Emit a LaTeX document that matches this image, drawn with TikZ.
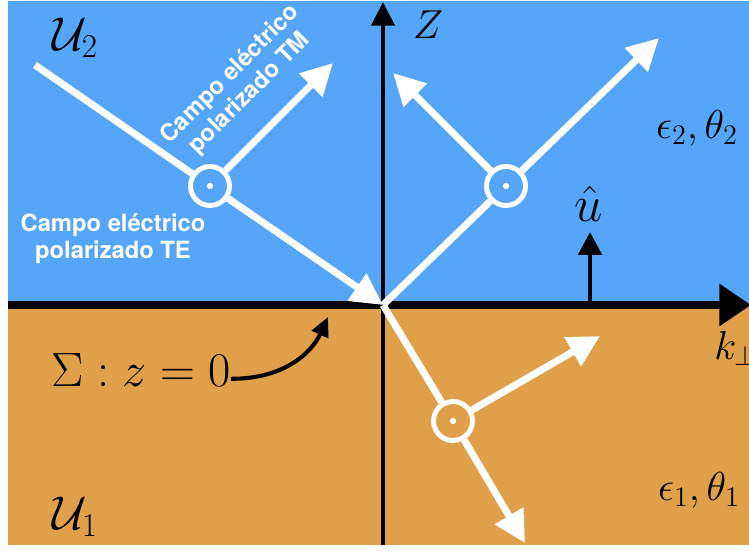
\RequirePackage{fix-cm}
\documentclass[tikz,border=0pt]{standalone}
\usepackage{amsmath}
\usepackage{fontspec}
\newfontfamily\heros{TeX Gyre Heros}
\usepackage{xcolor}
\usepackage{tikz}
\usetikzlibrary{arrows.meta,calc,positioning}

\definecolor{medioDos}{RGB}{85,165,249}
\definecolor{medioUno}{RGB}{224,160,74}

\begin{document}
\begin{tikzpicture}[x=0.02cm, y=-0.02cm,
  ray/.style={white, line width=4pt},
  tipW/.style={-{Triangle[length=18pt,width=18pt]}},
  pol/.style={circle, draw=white, line width=2.8pt, minimum size=0.78cm, inner sep=0pt},
  rotulo/.style={font=\heros\bfseries\fontsize{13.5}{15.4}\selectfont, text=white, align=center},
  mat/.style={font=\fontsize{23}{28}\selectfont}]
  \useasboundingbox (0,0) rectangle (749,550);
  \clip (0,0) rectangle (749,550);
  % medios
  \fill [medioDos] (8,1) rectangle (749,305);
  \fill [medioUno] (8,305) rectangle (749,545);

  % ejes
  \coordinate (O) at (383,305);
  \coordinate (xIni) at (8,305);
  \coordinate (xFin) at (751,305);
  \coordinate (zIni) at (383,545);
  \coordinate (zFin) at (383,2);
  \draw [line width=4.5pt, -{Triangle[length=18pt,width=23pt]}] (xIni) -- (xFin);
  \draw [line width=2.8pt, -{Triangle[length=13.5pt,width=13pt]}] (zIni) -- (zFin);
  \node [mat] at (428,25) (Z) {$Z$};
  \node [mat, anchor=west, inner sep=0pt] at (714,348) (kperp) {$k_\perp$};

  % normal
  \coordinate (uBase) at (590,305);
  \coordinate (uTip) at (590,232);
  \draw [line width=2.8pt, -{Triangle[length=13pt,width=13pt]}] (uBase) -- (uTip);
  \node [font=\fontsize{29}{34}\selectfont] at (589,204) (u) {$\hat{u}$};

  % polarizacion
  \node [pol] at (210,186) (inc) {};
  \node [pol] at (506,186) (refl) {};
  \node [pol] at (453,421) (trans) {};
  \fill [white] (inc) circle (1.8pt) (refl) circle (1.8pt) (trans) circle (1.8pt);

  % incidente
  \coordinate (incIni) at (35,65);
  \coordinate (tmFin) at (333,63);
  \draw [ray] (incIni) -- (inc);
  \draw [ray, tipW] (inc) -- (O);
  \draw [ray, tipW] (inc) -- (tmFin);
  % reflejado
  \coordinate (reflFin) at (659,38);
  \coordinate (reflTM) at (393,73);
  \draw [ray] (O) -- (refl);
  \draw [ray, tipW] (refl) -- (reflFin);
  \draw [ray, tipW] (refl) -- (reflTM);
  % transmitido
  \coordinate (transFin) at (525,543);
  \coordinate (transTM) at (600,336);
  \draw [ray] (O) -- (trans);
  \draw [ray, tipW] (trans) -- (transFin);
  \draw [ray, tipW] (trans) -- (transTM);

  \node [rotulo, rotate=45] at (240,84) (tm) {Campo eléctrico\\polarizado TM};
  \node [rotulo] at (113,239) (te) {Campo eléctrico\\polarizado TE};

  \node [mat] at (697,128) (med2) {$\epsilon_2,\theta_2$};
  \node [mat] at (699,490) (med1) {$\epsilon_1,\theta_1$};
  \node [font=\fontsize{27}{32}\selectfont] at (75,38) (U2) {$\mathcal{U}_2$};
  \node [font=\fontsize{27}{32}\selectfont] at (75,517) (U1) {$\mathcal{U}_1$};

  % superficie
  \node [font=\fontsize{27.5}{33}\selectfont, anchor=east, inner sep=0pt] at (231,370) (sigma) {$\Sigma : z = 0$};
  \coordinate (sigmaTip) at (328,317);
  \draw [line width=2.3pt, -{Triangle[length=11pt,width=10pt]}] ([yshift=-5pt] sigma.east) .. controls (285,379) and (312,352) .. (sigmaTip);
\end{tikzpicture}
\end{document}
